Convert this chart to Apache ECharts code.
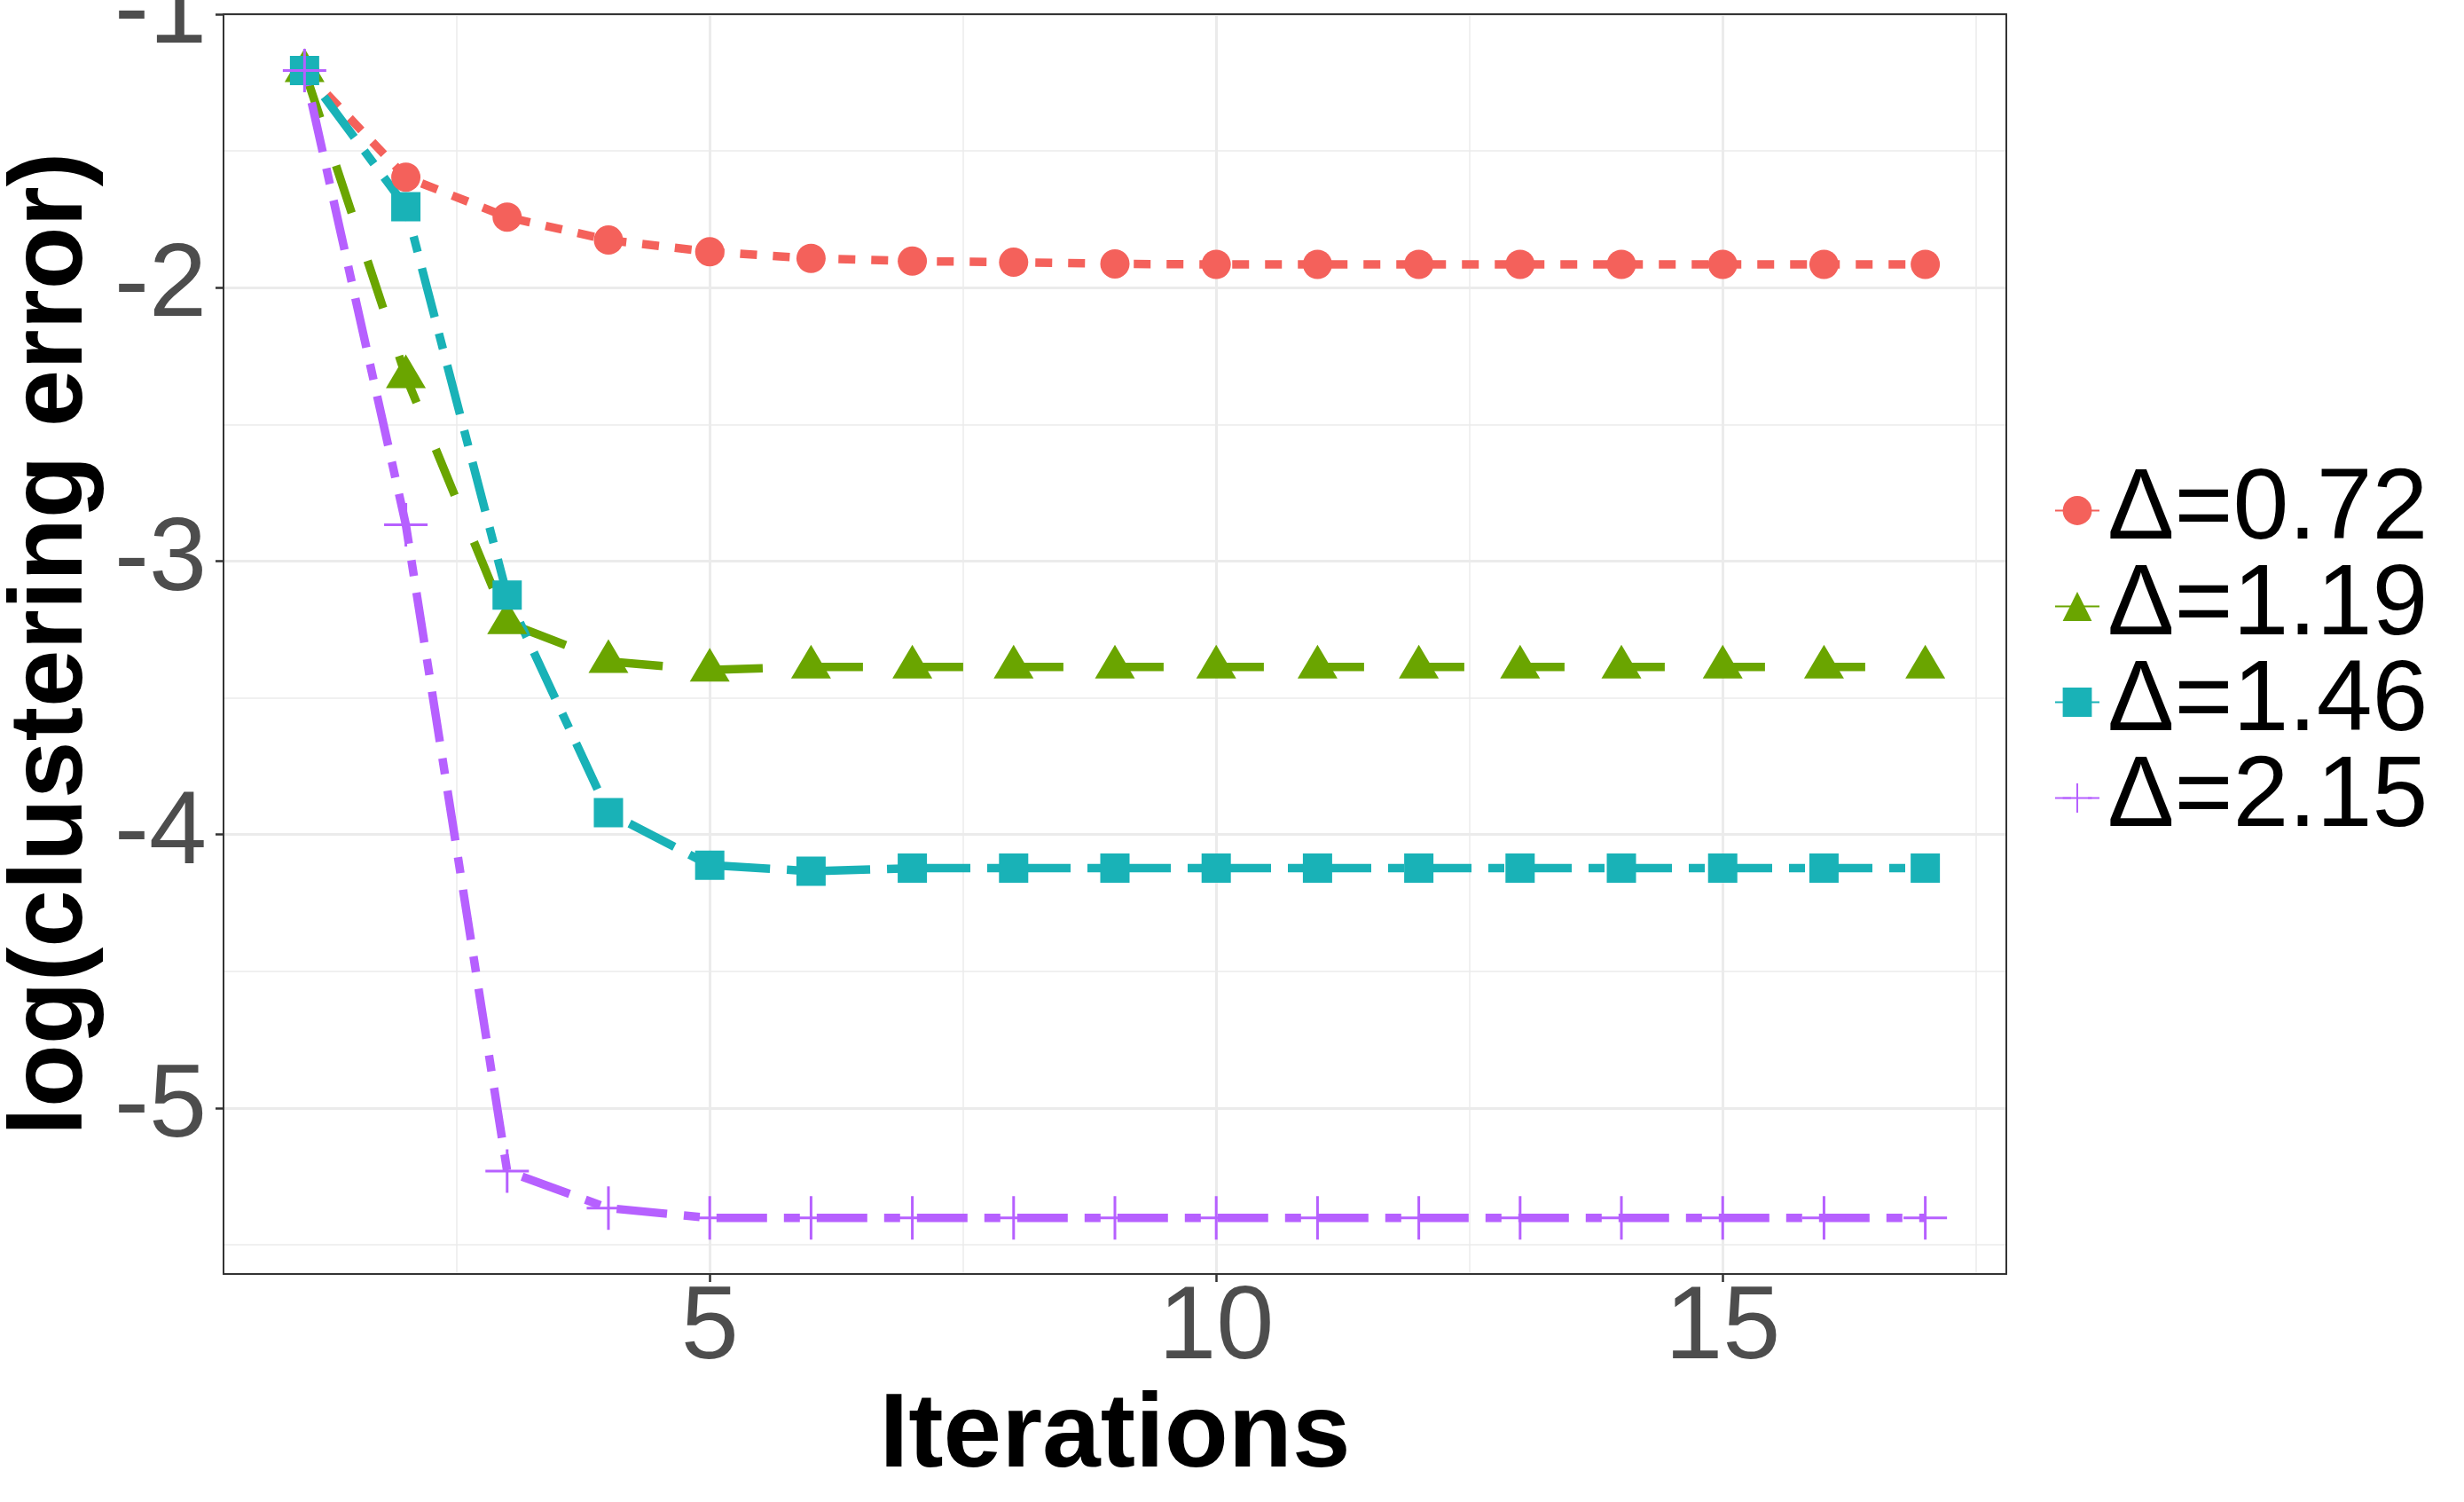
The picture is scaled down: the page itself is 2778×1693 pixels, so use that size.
<!DOCTYPE html>
<html>
<head>
<meta charset="utf-8">
<script src="https://cdn.jsdelivr.net/npm/echarts@6/dist/echarts.min.js"></script>
<style>
html, body { margin: 0; padding: 0; background: #fff; }
#chart { width: 2778px; height: 1693px; }
</style>
</head>
<body>
<div id="chart"></div>
<script>
// iterations on x, log(clustering error) on y, one list per delta
var iterations = [1, 2, 3, 4, 5, 6, 7, 8, 9, 10, 11, 12, 13, 14, 15, 16, 17];
var seriesNames = ['Δ=0.72', 'Δ=1.19', 'Δ=1.46', 'Δ=2.15'];
var err072 = [-1.206, -1.596, -1.742, -1.826, -1.869, -1.893, -1.903, -1.907, -1.913, -1.915, -1.915, -1.915, -1.915, -1.915, -1.915, -1.915, -1.915];
var err119 = [-1.206, -2.325, -3.225, -3.367, -3.398, -3.387, -3.387, -3.387, -3.387, -3.387, -3.387, -3.387, -3.387, -3.387, -3.387, -3.387, -3.387];
var err146 = [-1.206, -1.704, -3.124, -3.920, -4.112, -4.134, -4.123, -4.123, -4.123, -4.123, -4.123, -4.123, -4.123, -4.123, -4.123, -4.123, -4.123];
var err215 = [-1.206, -2.867, -5.231, -5.366, -5.402, -5.402, -5.402, -5.402, -5.402, -5.402, -5.402, -5.402, -5.402, -5.402, -5.402, -5.402, -5.402];

// tick labels and grid positions
var xTicks = [5, 10, 15];
var xMinor = [2.5, 7.5, 12.5, 17.5];
var yTicks = [-5, -4, -3, -2, -1];
var yMinor = [-5.5, -4.5, -3.5, -2.5, -1.5];

var FONT = "'Liberation Sans', Arial, Helvetica, sans-serif";
var colors = ['#F4615B', '#6AA500', '#19B2B7', '#B660FF'];
var plusPath = 'path://M0,23 L49,23 L49,26 L0,26 Z M23,0 L26,0 L26,49 L23,49 Z';

function pairs(ys) {
    return iterations.map(function (x, i) { return [x, ys[i]]; });
}

var chart = echarts.init(document.getElementById('chart'));

var gridLines = [];
yTicks.forEach(function (v) { gridLines.push({ yAxis: v, lineStyle: { color: '#EBEBEB', width: 3, type: 'solid' } }); });
yMinor.forEach(function (v) { gridLines.push({ yAxis: v, lineStyle: { color: '#EBEBEB', width: 1.5, type: 'solid' } }); });
xTicks.forEach(function (v) { gridLines.push({ xAxis: v, lineStyle: { color: '#EBEBEB', width: 3, type: 'solid' } }); });
xMinor.forEach(function (v) { gridLines.push({ xAxis: v, lineStyle: { color: '#EBEBEB', width: 1.5, type: 'solid' } }); });

function lineSeries(idx, data, symbol, size, dash, offset) {
    return {
        name: seriesNames[idx],
        type: 'line',
        data: pairs(data),
        z: 4,
        symbol: symbol,
        symbolSize: size,
        symbolOffset: offset || [0, 0],
        showSymbol: true,
        showAllSymbol: true,
        itemStyle: { color: colors[idx], opacity: 1 },
        lineStyle: { color: colors[idx], width: 9.5, type: dash, cap: 'butt', join: 'round' },
        emphasis: { disabled: true }
    };
}

var axisLineStyle = { color: '#333333', width: 2 };

var option = {
    animation: false,
    backgroundColor: '#ffffff',
    textStyle: { fontFamily: FONT },
    grid: { left: 252, right: 516, top: 16, bottom: 257, containLabel: false, outerBoundsMode: 'none' },
    legend: {
        orient: 'vertical',
        left: 2311,
        top: 514,
        itemWidth: 50,
        itemHeight: 41,
        itemGap: -5,
        data: seriesNames,
        selectedMode: false,
        textStyle: { fontSize: 113, lineHeight: 100, color: '#000000', fontFamily: FONT, padding: [0, 0, 0, 4] }
    },
    xAxis: [{
        type: 'value',
        min: 0.2,
        max: 17.8,
        z: 3,
        name: 'Iterations',
        nameLocation: 'middle',
        nameGap: 118,
        nameTextStyle: { fontSize: 118, fontWeight: 'bold', color: '#000000', fontFamily: FONT },
        axisLine: { show: true, onZero: false, lineStyle: axisLineStyle },
        axisTick: { show: true, length: 9, lineStyle: { color: '#333333', width: 2.5 }, customValues: xTicks },
        axisLabel: { show: true, margin: 4, fontSize: 117, color: '#4D4D4D', fontFamily: FONT, customValues: xTicks },
        splitLine: { show: false }
    }, {
        type: 'value',
        position: 'top',
        min: 0.2,
        max: 17.8,
        z: 3,
        axisLine: { show: true, onZero: false, lineStyle: axisLineStyle },
        axisTick: { show: false },
        axisLabel: { show: false },
        splitLine: { show: false }
    }],
    yAxis: [{
        type: 'value',
        min: -5.607,
        max: -1.0,
        z: 3,
        name: 'log(clustering error)',
        nameLocation: 'middle',
        nameRotate: 90,
        nameGap: 128,
        nameTextStyle: { fontSize: 116, fontWeight: 'bold', color: '#000000', fontFamily: FONT },
        axisLine: { show: true, onZero: false, lineStyle: axisLineStyle },
        axisTick: { show: true, length: 9, lineStyle: { color: '#333333', width: 2.5 }, customValues: yTicks },
        axisLabel: { show: true, margin: 19, fontSize: 117, color: '#4D4D4D', fontFamily: FONT, customValues: yTicks },
        splitLine: { show: false }
    }, {
        type: 'value',
        position: 'right',
        min: -5.607,
        max: -1.0,
        z: 3,
        axisLine: { show: true, onZero: false, lineStyle: axisLineStyle },
        axisTick: { show: false },
        axisLabel: { show: false },
        splitLine: { show: false }
    }],
    series: [
        {
            name: 'grid',
            type: 'line',
            data: [],
            z: 1,
            silent: true,
            markLine: {
                silent: true,
                z: 1,
                symbol: ['none', 'none'],
                label: { show: false },
                emphasis: { disabled: true },
                animation: false,
                data: gridLines
            }
        },
        lineSeries(0, err072, 'circle', 33, [19, 18]),
        lineSeries(1, err119, 'triangle', [45, 38], [56, 57], [0, -6]),
        lineSeries(2, err146, 'rect', 33, [18, 19, 57, 19]),
        lineSeries(3, err215, plusPath, 49, [18, 19, 57, 19])
    ]
};

chart.setOption(option);
</script>
</body>
</html>
